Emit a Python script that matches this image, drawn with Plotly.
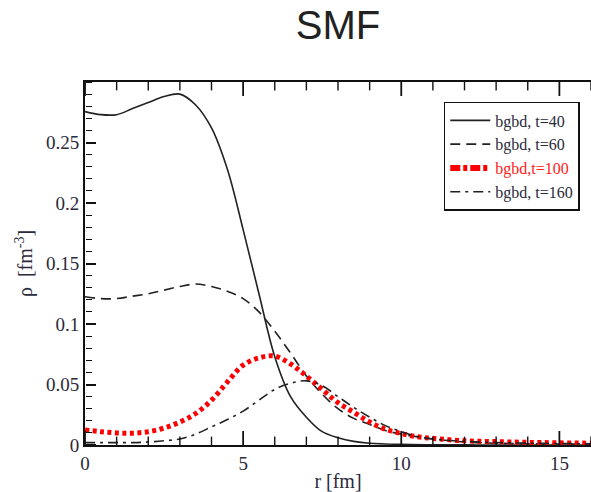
import plotly.graph_objects as go

# ---- data ----
r40 = [0, 0.5, 1, 1.5, 2, 2.5, 3, 3.5, 4, 4.5, 5, 5.5, 6, 6.5, 7, 7.5, 8, 8.5, 9, 10, 11, 12, 13, 14, 15, 16]
rho40 = [0.2755, 0.273, 0.273, 0.278, 0.283, 0.288, 0.290, 0.281, 0.262, 0.228, 0.178, 0.125, 0.073, 0.040,
         0.023, 0.011, 0.006, 0.003, 0.0015, 0.0005, 0.0002, 0.0001, 0, 0, 0, 0]

r60 = [0, 0.5, 1, 1.5, 2, 2.5, 3, 3.5, 4, 4.5, 5, 5.5, 6, 6.5, 7, 7.5, 8, 8.5, 9, 9.5, 10, 11, 12, 13, 14, 15, 16]
rho60 = [0.1225, 0.121, 0.121, 0.123, 0.125, 0.128, 0.131, 0.133, 0.131, 0.127, 0.121, 0.110, 0.094, 0.076,
         0.057, 0.042, 0.030, 0.022, 0.017, 0.012, 0.009, 0.005, 0.0025, 0.0015, 0.001, 0.0008, 0.0006]

r100 = [0, 0.5, 1, 1.5, 2, 2.5, 3, 3.5, 4, 4.5, 5, 5.5, 6, 6.5, 7, 7.5, 8, 8.5, 9, 9.5, 10, 10.5, 11, 12, 13, 14, 15, 16]
rho100 = [0.0125, 0.011, 0.010, 0.0098, 0.011, 0.014, 0.019, 0.026, 0.037, 0.052, 0.066, 0.072, 0.0735, 0.067,
          0.057, 0.046, 0.035, 0.027, 0.019, 0.013, 0.0095, 0.0068, 0.0055, 0.0035, 0.0028, 0.0022, 0.0018, 0.0015]

r160 = [0, 0.5, 1, 1.5, 2, 2.5, 3, 3.5, 4, 4.5, 5, 5.5, 6, 6.5, 7, 7.5, 8, 8.5, 9, 9.5, 10, 10.5, 11, 12, 13, 14, 15, 16]
rho160 = [0.002, 0.002, 0.002, 0.002, 0.0025, 0.0035, 0.005, 0.009, 0.015, 0.021, 0.028, 0.037, 0.046, 0.051,
          0.053, 0.049, 0.040, 0.031, 0.023, 0.016, 0.011, 0.007, 0.005, 0.003, 0.002, 0.0015, 0.0012, 0.001]

names = ["bgbd, t=40", "bgbd, t=60", "bgbd,t=100", "bgbd, t=160"]
xticks = [0, 5, 10, 15]
xminor = [1, 2, 3, 4, 6, 7, 8, 9, 11, 12, 13, 14, 16]
yticks = [0, 0.05, 0.1, 0.15, 0.2, 0.25]
yticklabels = ["0", "0.05", "0.1", "0.15", "0.2", "0.25"]
xrange_ = [0, 16]
yrange_ = [0, 0.3]

SERIF = "Liberation Serif, Times New Roman, serif"
INK = "#2a2a3a"
TICK = "#111111"

fig = go.Figure()
fig.add_trace(go.Scatter(x=r40, y=rho40, mode="lines", name=names[0],
                         line=dict(color="#222222", width=1.6), line_shape="spline"))
fig.add_trace(go.Scatter(x=r60, y=rho60, mode="lines", name=names[1],
                         line=dict(color="#222222", width=1.6, dash="10px,6px"), line_shape="spline"))
# red dotted curve in the plot; legend entry is a thick dash-dot sample
fig.add_trace(go.Scatter(x=r100, y=rho100, mode="lines", name=names[2], showlegend=False,
                         line=dict(color="#ff0000", width=5, dash="4px,3.5px"), line_shape="spline"))
fig.add_trace(go.Scatter(x=[None], y=[None], mode="lines",
                         name='<span style="color:#ff2020">' + names[2] + '</span>',
                         line=dict(color="#ff0000", width=6, dash="10px,3px,4px,3px")))
fig.add_trace(go.Scatter(x=r160, y=rho160, mode="lines", name=names[3],
                         line=dict(color="#222222", width=1.6, dash="10px,5px,3px,5px"), line_shape="spline"))

# inward x ticks (bottom and top edges): line markers centred on the axis, clipped to the plot area
for yv in yrange_:
    for vals, size, w in [(xticks, 20, 1.8), (xminor, 12, 1.4)]:
        fig.add_trace(go.Scatter(x=vals, y=[yv] * len(vals), mode="markers", showlegend=False,
                                 hoverinfo="skip", cliponaxis=True,
                                 marker=dict(symbol="line-ns", size=size,
                                             line=dict(color=TICK, width=w))))

# helper so the inward y-tick overlay axis is drawn
fig.add_trace(go.Scatter(x=[None], y=[None], xaxis="x", yaxis="y2", mode="lines",
                         showlegend=False, hoverinfo="skip"))

fig.update_layout(
    width=591, height=492,
    margin=dict(l=85, r=0, t=82, b=47),
    paper_bgcolor="white", plot_bgcolor="white",
    title=dict(text="SMF", x=0.5, xref="paper", y=0.95, yanchor="middle",
               font=dict(family="Liberation Sans, Arial, sans-serif", size=40, color="#222222")),
    showlegend=True,
    legend=dict(x=0.709, y=0.945, xanchor="left", yanchor="top",
                bordercolor="#111111", borderwidth=1.5, bgcolor="white",
                font=dict(family=SERIF, size=16, color=INK),
                tracegroupgap=0, itemwidth=40),
    xaxis=dict(range=xrange_, tickmode="array", tickvals=xticks, ticktext=[str(v) for v in xticks],
               ticks="", showline=True, linecolor="#111111", linewidth=2, mirror=True,
               showgrid=False, zeroline=False,
               tickfont=dict(family=SERIF, size=19, color=INK),
               title=dict(text="r [fm]", font=dict(family=SERIF, size=20, color=INK), standoff=4)),
    yaxis=dict(range=yrange_, tickmode="array", tickvals=yticks, ticktext=yticklabels,
               ticks="", showline=True, linecolor="#111111", linewidth=2, mirror=False,
               showgrid=False, zeroline=False,
               tickfont=dict(family=SERIF, size=19, color=INK),
               title=dict(text="ρ  [fm<sup>-3</sup>]", font=dict(family=SERIF, size=20, color=INK), standoff=8)),
    yaxis2=dict(overlaying="y", anchor="free", position=0, side="right", range=yrange_,
                tickmode="array", tickvals=yticks,
                ticks="outside", ticklen=10, tickwidth=1.8, tickcolor=TICK, showticklabels=False,
                showgrid=False, zeroline=False, showline=False,
                minor=dict(tickmode="linear", tick0=0, dtick=0.01, ticks="outside", ticklen=6,
                           tickwidth=1.4, tickcolor=TICK)),
)

fig.write_html("out.html")
